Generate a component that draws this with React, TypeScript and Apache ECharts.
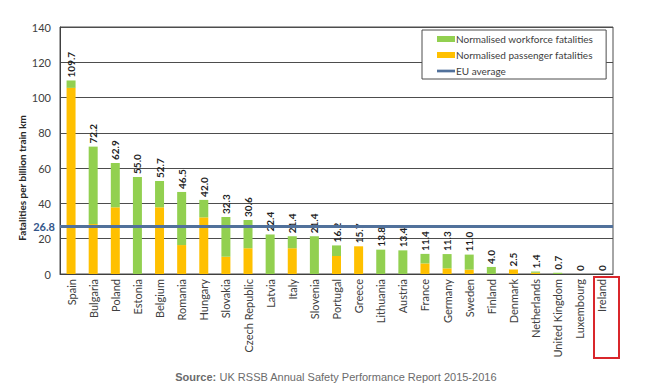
import React, { useEffect, useRef } from "react";
import * as echarts from "echarts";

const countries = [
  "Spain", "Bulgaria", "Poland", "Estonia", "Belgium", "Romania", "Hungary",
  "Slovakia", "Czech Republic", "Latvia", "Italy", "Slovenia", "Portugal",
  "Greece", "Lithuania", "Austria", "France", "Germany", "Sweden", "Finland",
  "Denmark", "Netherlands", "United Kingdom", "Luxembourg", "Ireland",
];

const totals = [
  109.7, 72.2, 62.9, 55.0, 52.7, 46.5, 42.0, 32.3, 30.6, 22.4, 21.4, 21.4,
  16.2, 15.7, 13.8, 13.4, 11.4, 11.3, 11.0, 4.0, 2.5, 1.4, 0.7, 0, 0,
];

const passenger = [
  105.5, 28.3, 37.8, 0, 37.8, 16.4, 32.1, 9.8, 14.6, 0, 14.6, 0,
  10.2, 15.7, 0, 0, 6.0, 3.2, 2.5, 0, 2.5, 0.7, 0, 0, 0,
];

const workforce = [
  4.2, 43.9, 25.1, 55.0, 14.9, 30.1, 9.9, 22.5, 16.0, 22.4, 6.8, 21.4,
  6.0, 0, 13.8, 13.4, 5.4, 8.1, 8.5, 4.0, 0, 0.7, 0.7, 0, 0,
];

const euAverage = 26.8;
const yTicks = { min: 0, max: 140, interval: 20 };

const FONT = "Lato, 'Liberation Sans', sans-serif";
const EU_COLOR = "#51719b";

export default function App() {
  const ref = useRef<HTMLDivElement>(null);
  useEffect(() => {
    if (!ref.current) return;
    const chart = echarts.init(ref.current, undefined, { renderer: "svg" });
    chart.setOption({
      animation: false,
      backgroundColor: "#ffffff",
      grid: {
        left: 60,
        top: 27,
        right: 37,
        bottom: 115,
        show: true,
        borderColor: "#4d4d4d",
        borderWidth: 1,
      },
      legend: {
        orient: "vertical",
        left: 422,
        top: 30,
        padding: [4, 13, 3, 15],
        itemGap: 6,
        itemWidth: 18,
        itemHeight: 6,
        backgroundColor: "#ffffff",
        borderColor: "#4d4d4d",
        borderWidth: 1,
        textStyle: { fontFamily: FONT, fontSize: 10, color: "#404040", padding: [0, 0, 0, -4] },
        data: [
          { name: "Normalised workforce fatalities", icon: "rect" },
          { name: "Normalised passenger fatalities", icon: "rect" },
          { name: "EU average", icon: "path://M0 0H20V3H0Z" },
        ],
      },
      xAxis: {
        type: "category",
        data: countries,
        axisTick: { show: false },
        axisLine: { lineStyle: { color: "#404040" } },
        axisLabel: {
          interval: 0,
          rotate: 90,
          margin: 5,
          fontFamily: FONT,
          fontSize: 11,
          color: "#404040",
        },
      },
      yAxis: {
        type: "value",
        min: yTicks.min,
        max: yTicks.max,
        interval: yTicks.interval,
        axisLine: { show: true, lineStyle: { color: "#404040" } },
        axisTick: { show: false },
        axisLabel: { fontFamily: FONT, fontSize: 11, color: "#404040", margin: 9 },
        splitLine: { lineStyle: { color: "#4d4d4d", width: 1 } },
      },
      series: [
        {
          name: "Normalised passenger fatalities",
          type: "bar",
          stack: "total",
          barWidth: 9,
          data: passenger,
          itemStyle: { color: "#FFC000" },
        },
        {
          name: "Normalised workforce fatalities",
          type: "bar",
          stack: "total",
          barWidth: 9,
          data: workforce,
          itemStyle: { color: "#92D050" },
          label: {
            show: true,
            position: "top",
            rotate: 90,
            align: "left",
            verticalAlign: "middle",
            distance: 3,
            fontFamily: FONT,
            fontSize: 10,
            fontWeight: "bold",
            color: "#1f1f1f",
            formatter: (p: any) => {
              const v = totals[p.dataIndex];
              return v === 0 ? "0" : v.toFixed(1);
            },
          },
          markLine: {
            silent: true,
            symbol: "none",
            lineStyle: { color: EU_COLOR, width: 3, type: "solid" },
            label: {
              show: true,
              position: "start",
              distance: 5,
              formatter: String(euAverage),
              fontFamily: FONT,
              fontSize: 11,
              fontWeight: "bold",
              color: "#34568a",
            },
            data: [{ yAxis: euAverage }],
          },
        },
        {
          name: "EU average",
          type: "line",
          data: [],
          color: EU_COLOR,
          lineStyle: { color: EU_COLOR, width: 3 },
          symbol: "none",
        },
      ],
      graphic: [
        {
          type: "text",
          x: 22,
          y: 178,
          rotation: Math.PI / 2,
          style: {
            text: "Fatalities per billion train km",
            fontFamily: FONT,
            fontSize: 10,
            fontWeight: "bold",
            fill: "#262626",
            textAlign: "center",
            textVerticalAlign: "middle",
          },
        },
        {
          type: "rect",
          shape: { x: 594, y: 277, width: 25, height: 81 },
          style: { fill: "none", stroke: "#d9262b", lineWidth: 2 },
        },
        {
          type: "text",
          x: 336,
          y: 377,
          style: {
            text: "{b|Source:} UK RSSB Annual Safety Performance Report 2015-2016",
            rich: { b: { fontWeight: "bold", fontFamily: "'Liberation Sans', Arial, sans-serif", fontSize: 11, fill: "#6b6b6b" } },
            fontFamily: "'Liberation Sans', Arial, sans-serif",
            fontSize: 11,
            fill: "#6b6b6b",
            textAlign: "center",
            textVerticalAlign: "middle",
          },
        },
      ],
    });
    return () => chart.dispose();
  }, []);
  return (
    <div
      ref={ref}
      style={{ position: "fixed", left: 0, top: 0, width: 650, height: 389 }}
    />
  );
}
